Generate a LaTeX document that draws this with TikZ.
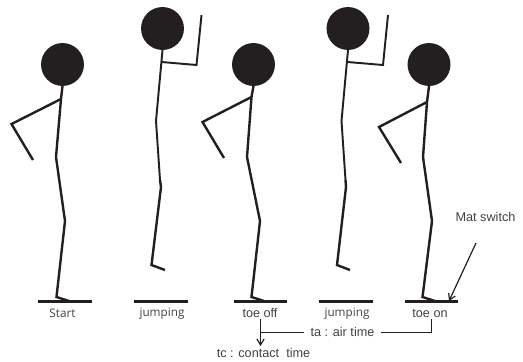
\documentclass[tikz,border=0pt]{standalone}
\usepackage{fontspec}
\setmainfont{Liberation Sans}
\newfontfamily\labelfont{Open Sans}
\usetikzlibrary{arrows.meta}
\definecolor{inkblack}{RGB}{35,31,32}
\begin{document}
\begin{tikzpicture}[
    x=0.75pt, y=-0.75pt,
    head/.style={circle, fill=inkblack, inner sep=0pt, minimum size=32.2pt},
    limb/.style={draw=inkblack, line width=1.8pt, line join=miter},
    thinlimb/.style={draw=inkblack, line width=1.45pt},
    mat/.style={draw=inkblack, line width=1.7pt},
    caption/.style={font=\labelfont\fontsize{8.8pt}{10pt}\selectfont, text=inkblack!85, inner sep=0pt},
    note/.style={font=\fontsize{9.5pt}{11pt}\selectfont, text=inkblack!85, inner sep=0pt},
    lead/.style={draw=inkblack, line width=0.9pt},
    arr/.style={lead, -{Straight Barb[length=4.5pt,width=5.5pt]}}
  ]
  \useasboundingbox (0,0) rectangle (523,361);
  % standing figures
  \node[head] (head1) at (62.5,64.5) {};
  \draw[limb] (62.5,86) -- (61,99) -- (56,157) -- (65,221) -- (56.5,297) -- (69,301);
  \draw[limb] (61,99) -- (11.5,124) -- (33,160);
  \draw[mat] (38,301.5) -- (92,301.5);

  \node[head] (head3) at (253.5,64.5) {};
  \draw[limb] (253.5,86) -- (251.5,97) -- (247,157) -- (260,221) -- (251.5,297) -- (264,301);
  \draw[limb] (251.5,97) -- (202.5,122) -- (224,158);
  \draw[mat] (234,301.5) -- (287,301.5);

  \node[head] (head5) at (429,64.5) {};
  \draw[limb] (429,86) -- (427,102) -- (423,157) -- (432,221) -- (422.5,297) -- (435,301);
  \draw[limb] (427,102) -- (379,127) -- (401,163);
  \draw[mat] (405,301.5) -- (458,301.5);

  % figures in the air
  \node[head] (head2) at (162.5,28.5) {};
  \draw[thinlimb] (162.5,50) -- (156,121) -- (160,180);
  \draw[limb] (160,180) -- (161,187) -- (151.5,265) -- (165,270);
  \draw[thinlimb] (161.5,62) -- (196.5,65) -- (201.5,15);
  \draw[mat] (133.5,301.5) -- (187.5,301.5);

  \node[head] (head4) at (348,28.5) {};
  \draw[thinlimb] (348,50) -- (341.5,121) -- (345.5,180);
  \draw[limb] (345.5,180) -- (346,187) -- (337,265) -- (350,270);
  \draw[thinlimb] (347.5,62) -- (383,65) -- (388,15);
  \draw[mat] (319,301.5) -- (373,301.5);

  % captions
  \node[caption] (start) at (62.5,313) {Start};
  \node[caption] (jump1) at (162,314) {jumping};
  \node[note] (toeoff) at (260,313) {toe off};
  \node[caption] (jump2) at (347,314) {jumping};
  \node[note] (toeon) at (430,313) {toe on};
  \node[note] (mat) at (485.5,217) {Mat switch};
  \node[note, inner xsep=4.5pt] (air) at (342.5,332) {ta : air time};
  \node[note] (contact) at (263.5,353) {tc : contact\ \ time};

  % timing brackets
  \coordinate (offdrop) at (260.5,319);
  \coordinate (offtip) at (260.5,346);
  \coordinate (offmid) at (260.5,332.5);
  \coordinate (onmid) at (431.5,332.5);
  \coordinate (ondrop) at (431.5,319);
  \draw[lead] (offmid) -- (offmid -| air.west);
  \draw[lead] (onmid -| air.east) -- (onmid) -- (ondrop);
  \draw[arr] (offdrop) -- (offtip);
  % pointer to the mat
  \coordinate (matfrom) at (476,243);
  \coordinate (matto) at (449,301);
  \draw[arr] (matfrom) -- (matto);
\end{tikzpicture}
\end{document}
